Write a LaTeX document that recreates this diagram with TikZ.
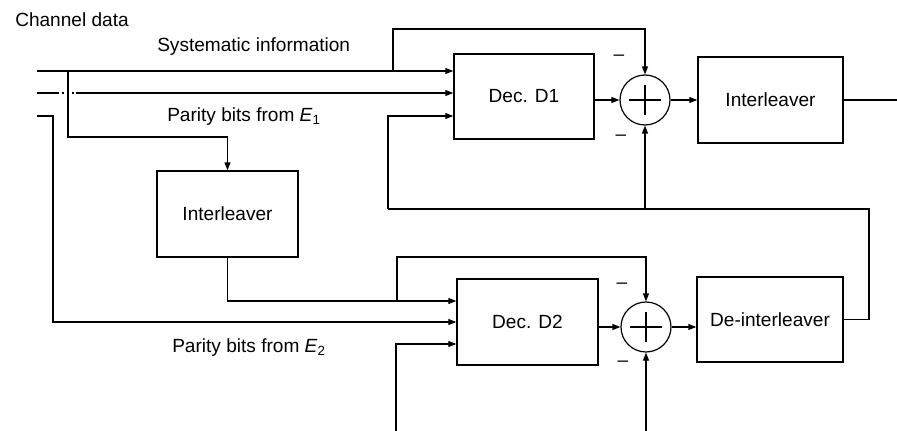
\documentclass[tikz,border=0pt]{standalone}
\usepackage{fontspec}
\setmainfont{Liberation Sans}
\usetikzlibrary{arrows.meta}
\tikzset{
  x=0.75pt, y=-0.75pt,
  every node/.style={font=\fontsize{14.3}{17}\selectfont},
  wire/.style={line width=0.9pt},
  arr/.style={wire, -{Triangle[length=6pt,width=4.5pt]}},
  blockbox/.style={draw, line width=1.1pt, inner sep=0pt},
  summer/.style={draw, line width=0.9pt, circle, minimum size=37.5pt, inner sep=0pt},
  sign/.style={inner sep=0pt},
  lbl/.style={inner sep=0pt, anchor=base west}
}
\begin{document}
\begin{tikzpicture}
\useasboundingbox (0,0) rectangle (897,431);

% blocks
\node[blockbox, minimum width=105pt,   minimum height=63.75pt] (d1)    at (524,96.5)  {Dec. D1};
\node[blockbox, minimum width=108.75pt, minimum height=64.5pt] (int1)  at (770.5,100) {Interleaver};
\node[blockbox, minimum width=105.75pt, minimum height=64.5pt] (il)    at (227.5,214) {Interleaver};
\node[blockbox, minimum width=105.75pt, minimum height=64.5pt] (d2)    at (527.5,322) {Dec. D2};
\node[blockbox, minimum width=109.5pt,  minimum height=63.75pt] (deint) at (770,319.5) {De-interleaver};

% adders
\node[summer] (s1) at (645,100) {};
\node[summer] (s2) at (646,327) {};
\draw[wire] (s1.center) +(-16,0) -- +(16,0) (s1.center) +(0,-15) -- +(0,15);
\draw[wire] (s2.center) +(-16,0) -- +(16,0) (s2.center) +(0,-15) -- +(0,15);

% minus signs at the adders
\node[sign] (m1) at (619,58)  {–};
\node[sign] (m2) at (621,138) {–};
\node[sign] (m3) at (622,286) {–};
\node[sign] (m4) at (623,364) {–};

% labels
\node[lbl] (chd)  at (15,27)  {Channel data};
\node[lbl] (sysl) at (157,52) {Systematic information};
\node[lbl] (pe1)  at (167,122) {Parity bits from \textit{E}\textsubscript{1}};
\node[lbl] (pe2)  at (172,353) {Parity bits from \textit{E}\textsubscript{2}};

% points on the wires
\coordinate (in1) at (37,71);
\coordinate (in2) at (37,93);
\coordinate (in3) at (37,116);
\coordinate (b1)  at (68,71);
\coordinate (tp1) at (393,71);
\coordinate (tq1) at (393,29);
\coordinate (y93) at (0,93);
\coordinate (y116) at (0,116);
\coordinate (y301) at (0,301);
\coordinate (y344) at (0,344);
\coordinate (br2) at (397,301);
\coordinate (tq2) at (397,257);
\coordinate (low3) at (396,431);
\coordinate (low4) at (646,431);
\coordinate (fb1) at (869,319.5);
\coordinate (fb2) at (388,209);
\coordinate (fb3) at (645,209);
\coordinate (outr) at (897,100);

% channel data inputs
\draw[arr] (in1) -- (d1.west |- in1);
\draw[arr] (b1) -- (68,137) -| (il.north);
\draw[arr] (tp1) -- (tq1) -| (s1.north);
\draw[wire] (in2) -- (59,93);
\draw[wire] (62,93) -- (64,93);
\draw[wire] (72,93) -- (74,93);
\draw[arr] (76,93) -- (d1.west |- y93);
\draw[arr] (in3) -- (53,116) |- (d2.west);

% interleaved systematic path into decoder 2
\draw[arr] (il.south) |- (d2.west |- y301);
\draw[arr] (br2) -- (tq2) -| (s2.north);
\draw[arr] (low3) |- (d2.west |- y344);
\draw[arr] (low4) -- (s2.south);

% decoder 1 chain
\draw[arr] (d1.east |- s1) -- (s1.west);
\draw[arr] (s1.east) -- (int1.west |- s1);
\draw[wire] (int1.east |- s1) -- (outr);

% decoder 2 chain
\draw[arr] (d2.east |- s2) -- (s2.west);
\draw[arr] (s2.east) -- (deint.west |- s2);

% feedback from the de-interleaver
\draw[wire] (deint.east) -- (fb1) |- (fb2);
\draw[arr] (fb2) |- (d1.west |- y116);
\draw[arr] (fb3) -- (s1.south);
\end{tikzpicture}
\end{document}
